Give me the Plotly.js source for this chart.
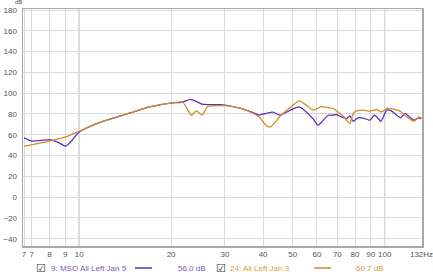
<!DOCTYPE html>
<html>
<head>
<meta charset="utf-8">
<script src="https://cdn.plot.ly/plotly-3.0.1.min.js"></script>
<style>html,body{margin:0;padding:0;background:#fff;}#chart{width:433px;height:275px;}</style>
</head>
<body>
<div id="chart"></div>
<script>
// Series 1: "9: MSO All Left Jan 5"
const msoFreq = [6.6,7,8,8.5,9.05,9.5,10,11.7,14.7,17.1,20,21.8,23.2,25.3,27,29,30,33.8,36.5,38.8,40.9,43.1,45.4,49.4,52.5,55.4,58.4,60.5,62.1,65.3,67.8,69.5,72.2,75,76.9,78.9,81.8,86.1,89.5,92.5,95.3,97.2,101.6,105.4,109.5,112.9,116.6,120.6,124.8,129.1,132];
const msoDb   = [57,54,55.4,53,49,55,62.7,72,81,87,90.5,91.5,94,89.5,89,89,88.5,85.3,82,79,80.5,81.7,79,84,86.9,82,75,69.2,72,78.8,78.8,79.5,77.2,75.6,78.2,73,76.3,75.6,74,78.8,75.6,73,83.7,82.7,78.8,76.3,80.5,77.2,74,76.3,75.6];
// Series 2: "24: All Left Jan 3"
const allFreq = [6.6,8,9.05,10,11.7,14.7,17.1,20,21.8,23.3,24.2,25.3,26.3,29,30,33.8,36.5,38.8,40.9,42.2,45.8,49.4,52.5,55.4,58.4,62.1,65.3,67.8,70.4,73.1,75,76.9,78.9,80.9,85.1,89.5,94.1,97.7,101.6,106.8,112.3,116.6,121.1,124.8,129.1,132];
const allDb   = [49,54,58,63.4,72,81,87,90.5,91.5,78.8,83,79,87,88,88,85.5,81.7,77.2,69,67.5,78.8,86.9,92.7,88.5,83.7,87,86,85.3,82,78,74,70.8,80.5,83,83.7,82.7,84.3,82,85.3,84.6,82.7,78.8,75,73,77.2,76.3];

const xTickVals  = [6.6,7,8,9,10,20,30,40,50,60,70,80,90,100,132];
const xTickText  = ["7","7","8","9","10","20","30","40","50","60","70","80","90","100","132Hz"];
const yTickVals  = [-40,-20,0,20,40,60,80,100,120,140,160,180];
const yUnit = 'dB';

const legendNames = ["9: MSO All Left Jan 5","24: All Left Jan 3"];
const legendLevels = ["56.0 dB","60.7 dB"];

const purple = '#5a2ec2';
const orange = '#d48c22';

const W = 433, H = 275;
const M = {l:23, r:11, t:9, b:29};
const pw = W - M.l - M.r, ph = H - M.t - M.b;
const px = x => (x - M.l) / pw;
const py = y => (H - M.b - y) / ph;

const traces = [
  {x: msoFreq, y: msoDb, type:'scatter', mode:'lines', line:{color:purple, width:1.3, shape:'spline', smoothing:0.6}, hoverinfo:'skip'},
  {x: allFreq, y: allDb, type:'scatter', mode:'lines', line:{color:orange, width:1.3, shape:'spline', smoothing:0.6}, hoverinfo:'skip'}
];

const font = {family:'"Liberation Sans", Arial, sans-serif', size:8, color:'#555'};
const ly = py(268);

const layout = {
  width:W, height:H,
  margin:{l:M.l, r:M.r, t:M.t, b:M.b, pad:0},
  paper_bgcolor:'#fff', plot_bgcolor:'#fff',
  showlegend:false,
  font: font,
  xaxis:{type:'log', range:[Math.log10(6.55), Math.log10(132.5)], tickvals:xTickVals, ticktext:xTickText,
         showgrid:true, gridcolor:'#dadada', gridwidth:1, showline:true, linecolor:'#a8a8a8', linewidth:1.5, mirror:true,
         ticks:'', tickfont:font, zeroline:false, fixedrange:true, ticklabeloverflow:'allow'},
  yaxis:{range:[-47,181], tickvals:yTickVals, showgrid:true, gridcolor:'#dadada', gridwidth:1,
         showline:true, linecolor:'#a8a8a8', linewidth:1.5, mirror:true, ticks:'', tickfont:font,
         zeroline:false, fixedrange:true, ticklabelstandoff:3, ticklabeloverflow:'allow'},
  shapes:[
    {type:'line', layer:'below', xref:'x', yref:'paper', x0:10, x1:10, y0:0, y1:1, line:{color:'#a8a8a8', width:1}},
    {type:'line', layer:'below', xref:'x', yref:'paper', x0:100, x1:100, y0:0, y1:1, line:{color:'#a8a8a8', width:1}},
    {type:'line', xref:'paper', yref:'paper', x0:px(135), x1:px(152), y0:ly, y1:ly, line:{color:purple, width:1.5}},
    {type:'line', xref:'paper', yref:'paper', x0:px(314), x1:px(331), y0:ly, y1:ly, line:{color:orange, width:1.5}}
  ],
  annotations:[
    {text:yUnit, xref:'paper', yref:'paper', x:0, y:1, xanchor:'right', yanchor:'bottom', xshift:1, yshift:2.5, showarrow:false, font:{family:font.family, size:6, color:'#555'}},
    {text:'☑', xref:'paper', yref:'paper', x:px(41), y:ly, xanchor:'center', yanchor:'middle', showarrow:false, font:{family:'DejaVu Sans', size:11, color:'#333'}},
    {text:legendNames[0], xref:'paper', yref:'paper', x:px(49), y:ly, xanchor:'left', yanchor:'middle', showarrow:false, font:{family:font.family, size:8, color:'#7d58c0'}},
    {text:legendLevels[0], xref:'paper', yref:'paper', x:px(176), y:ly, xanchor:'left', yanchor:'middle', showarrow:false, font:{family:font.family, size:8, color:'#7d58c0'}},
    {text:'☑', xref:'paper', yref:'paper', x:px(221), y:ly, xanchor:'center', yanchor:'middle', showarrow:false, font:{family:'DejaVu Sans', size:11, color:'#333'}},
    {text:legendNames[1], xref:'paper', yref:'paper', x:px(228), y:ly, xanchor:'left', yanchor:'middle', showarrow:false, font:{family:font.family, size:8, color:'#d99a40'}},
    {text:legendLevels[1], xref:'paper', yref:'paper', x:px(354), y:ly, xanchor:'left', yanchor:'middle', showarrow:false, font:{family:font.family, size:8, color:'#d99a40'}}
  ]
};

Plotly.newPlot('chart', traces, layout, {staticPlot:true, displayModeBar:false});
</script>
</body>
</html>
